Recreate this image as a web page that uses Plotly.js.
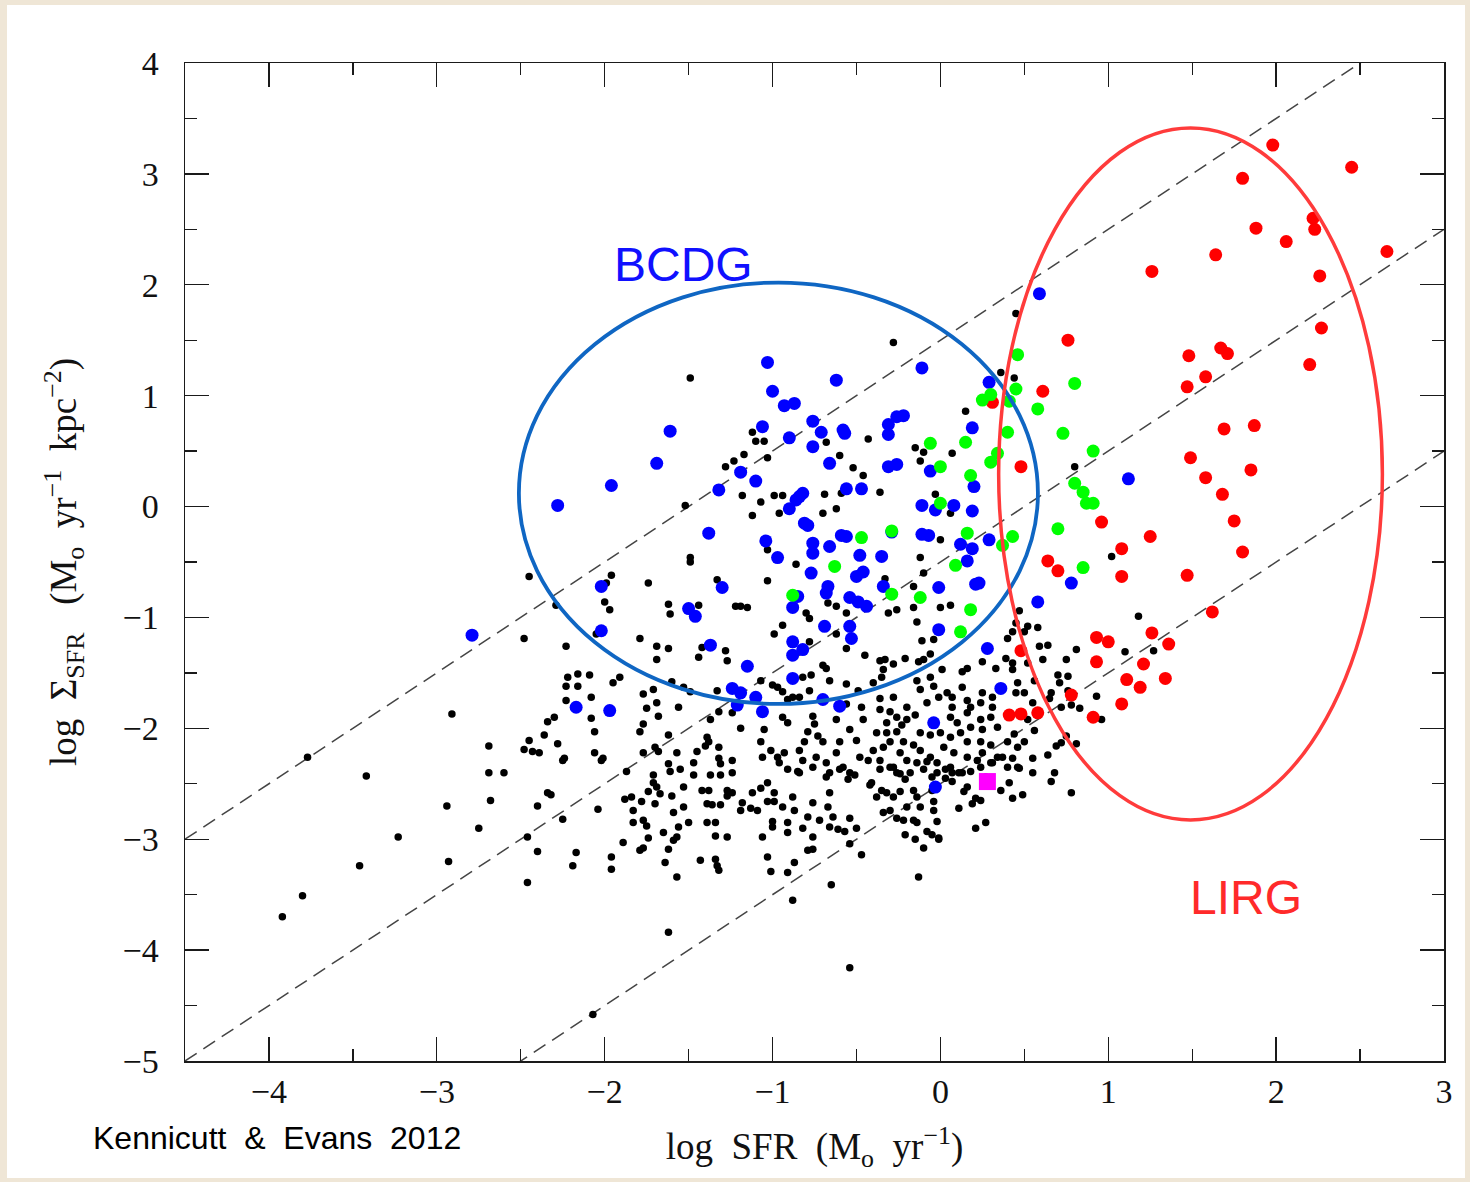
<!DOCTYPE html>
<html>
<head>
<meta charset="utf-8">
<script src="https://cdn.plot.ly/plotly-3.0.1.min.js"></script>
<style>
  html, body { margin: 0; padding: 0; width: 1470px; height: 1182px; background: #efe6d6; overflow: hidden; }
  #chart { position: absolute; left: 7px; top: 5px; width: 1458px; height: 1173px; background: #ffffff; }
</style>
</head>
<body>
<div id="chart"></div>
<script>
// ---------------- DATA ----------------
const xTickVals = [-4, -3, -2, -1, 0, 1, 2, 3];
const yTickVals = [-5, -4, -3, -2, -1, 0, 1, 2, 3, 4];
const xRange = [-4.5, 3];
const yRange = [-5, 4];

// dashed reference lines: log Sigma = log SFR + offset
const lineOffsets = [1.5, -0.5, -2.5];

// ellipses: [centerX, centerY, radiusX, radiusY]
const bcdgEllipse = [-0.965, 0.12, 1.546, 1.90];
const lirgEllipse = [1.49, 0.294, 1.143, 3.12];

const magentaPts = [[0.28, -2.48]];

const bluePts = [
[-2.79,-1.16],[-2.28,0.01],[-1.96,0.19],[-1.69,0.39],[-1.61,0.68],[-2.02,-0.72],[-2.02,-1.12],[-2.17,-1.81],
[-1.97,-1.84],[-1.38,-0.24],[-1.32,0.15],[-1.19,0.31],[-1.30,-0.73],[-1.50,-0.92],[-1.46,-0.99],[-1.37,-1.25],
[-1.15,-1.44],[-1.24,-1.64],[-1.19,-1.68],[-1.21,-1.79],[-1.06,-1.85],[-1.10,-1.72],[-1.03,1.30],[-1.00,1.04],
[-0.93,0.91],[-0.87,0.93],[-1.06,0.72],[-0.62,1.14],[-0.76,0.77],[-0.71,0.67],[-0.58,0.69],[-0.57,0.66],
[-0.90,0.62],[-0.76,0.54],[-0.11,1.25],[-0.31,0.74],[-0.26,0.81],[-0.22,0.82],[-0.31,0.65],[0.19,0.71],
[0.29,1.12],[-0.66,0.39],[-0.31,0.36],[-0.26,0.38],[-0.06,0.32],[-1.10,0.23],[-0.56,0.16],[-0.47,0.16],
[-0.82,0.12],[-0.84,0.09],[-0.86,0.06],[-0.90,-0.02],[0.20,0.18],[-0.11,0.01],[-0.03,-0.03],[0.08,0.01],
[0.19,-0.04],[-0.81,-0.15],[-0.79,-0.17],[-0.59,-0.26],[-0.56,-0.27],[-0.76,-0.33],[-0.66,-0.36],[-0.11,-0.25],
[-0.07,-0.26],[-1.04,-0.31],[-0.48,-0.44],[-0.76,-0.42],[-0.35,-0.45],[0.12,-0.34],[0.19,-0.38],[0.29,-0.30],
[-0.97,-0.46],[-0.29,-0.23],[-0.77,-0.60],[-0.50,-0.63],[-0.46,-0.59],[-0.67,-0.72],[-0.68,-0.78],[-0.34,-0.72],
[-0.85,-0.81],[-0.88,-0.91],[-0.54,-0.82],[-0.49,-0.86],[-0.44,-0.90],[-0.01,-0.73],[0.21,-0.70],[0.23,-0.69],
[-0.69,-1.08],[-0.54,-1.08],[-0.53,-1.19],[-0.88,-1.22],[-0.82,-1.29],[-0.88,-1.34],[-0.01,-1.11],[0.28,-1.28],
[-0.88,-1.55],[-0.70,-1.74],[-0.60,-1.80],[-0.04,-1.95],[0.36,-1.64],[0.16,-0.49],[0.59,1.92],[1.12,0.25],
[0.78,-0.69],[0.58,-0.86],[-0.03,-2.53]
];

const greenPts = [
[0.46,1.37],[0.30,1.01],[0.25,0.96],[0.45,1.06],[0.41,0.95],[0.58,0.88],[0.80,1.11],[0.40,0.67],
[0.73,0.66],[-0.06,0.57],[0.15,0.58],[0.34,0.48],[0.30,0.40],[0.00,0.36],[0.18,0.28],[0.91,0.50],
[0.80,0.21],[0.85,0.13],[0.87,0.03],[0.91,0.03],[0.00,0.03],[-0.29,-0.22],[-0.47,-0.28],[0.16,-0.24],
[0.43,-0.27],[0.37,-0.35],[0.70,-0.20],[0.85,-0.55],[-0.63,-0.54],[0.09,-0.53],[-0.88,-0.80],[-0.29,-0.79],
[-0.12,-0.82],[0.18,-0.93],[0.12,-1.13]
];

const redPts = [
[1.98,3.26],[2.45,3.06],[1.80,2.96],[2.22,2.60],[2.23,2.50],[1.88,2.51],[2.06,2.39],[2.66,2.30],
[1.64,2.27],[1.26,2.12],[2.26,2.08],[2.27,1.61],[0.76,1.50],[1.67,1.43],[1.71,1.38],[1.48,1.36],
[2.20,1.28],[1.58,1.17],[1.47,1.08],[0.61,1.04],[0.31,0.94],[1.69,0.70],[1.87,0.73],[1.49,0.44],
[1.85,0.33],[0.48,0.36],[1.58,0.26],[1.68,0.11],[1.75,-0.13],[0.96,-0.14],[1.25,-0.27],[1.08,-0.38],
[1.80,-0.41],[0.64,-0.49],[0.70,-0.58],[1.08,-0.63],[1.47,-0.62],[1.62,-0.95],[0.93,-1.18],[1.00,-1.22],
[1.26,-1.14],[1.36,-1.24],[0.48,-1.30],[1.21,-1.42],[0.93,-1.40],[1.11,-1.56],[1.19,-1.63],[1.34,-1.55],
[0.78,-1.70],[1.08,-1.78],[0.91,-1.90],[0.41,-1.88],[0.48,-1.87],[0.58,-1.86]
];

const blackPts = [
// upper scattered
[-0.28,1.48],[0.45,1.74],[0.36,1.21],[0.44,1.16],[0.15,0.86],[-1.12,0.67],[-1.10,0.59],[-1.05,0.59],
[-0.68,0.58],[-0.43,0.61],[-0.15,0.53],[-0.10,0.49],[-0.12,0.41],[0.07,0.48],[-0.60,0.46],[-1.03,0.44],
[-0.52,0.35],[-0.46,0.28],[-0.99,0.10],[-0.94,0.10],[-1.07,0.04],[-1.12,-0.08],[-0.96,-0.06],[-0.69,0.11],
[-0.59,0.12],[-0.70,-0.06],[-0.62,-0.02],[-0.36,0.13],[-0.03,0.11],[0.06,-0.06],[0.00,-0.30],[-1.03,-0.39],
[-0.12,-0.46],[-1.49,1.16],[-1.28,0.36],[-1.23,0.41],[-1.17,0.47],[-1.18,0.10],[-1.52,0.01],[-1.49,-0.46],
[0.80,0.36],
// right group
[1.02,-0.45],[1.18,-0.99],[1.10,-1.31],[1.27,-1.30],[0.93,-1.71],[0.96,-1.92],[0.47,-0.94],[0.45,-1.05],
[0.52,-1.08],[0.58,-1.09],[0.50,-1.13],[0.43,-1.13],[0.40,-1.19],[0.59,-1.26],[0.64,-1.25],[0.61,-1.38],
[0.75,-1.38],[0.81,-1.29],[0.39,-1.37],[0.43,-1.41],[0.43,-1.47],[0.52,-1.41],[0.70,-1.52],[0.76,-1.53],
[0.46,-1.59],[0.50,-1.68],[0.45,-1.68],[0.71,-1.59],[0.66,-1.68],[0.56,-1.57],[0.65,-1.73],[0.76,-1.66],
[0.72,-1.81],[0.78,-1.79],[0.83,-1.82],[0.55,-1.77],[0.52,-1.92],[0.56,-2.02],[0.44,-2.05],[0.40,-2.12],
[0.50,-2.12],[0.46,-2.17],[0.75,-2.07],[0.72,-2.13],[0.81,-2.14],[0.69,-2.16],[0.37,-2.26],[0.55,-2.27],
[0.43,-2.27],[0.64,-2.24],[0.40,-2.35],[0.47,-2.36],[0.55,-2.40],[0.68,-2.40],
// left-middle group
[-2.45,-0.63],[-1.96,-0.62],[-1.99,-0.69],[-1.49,-0.50],[-1.74,-0.69],[-1.33,-0.66],[-2.29,-0.89],[-2.00,-0.86],
[-1.97,-0.93],[-1.62,-0.88],[-1.61,-0.97],[-1.44,-0.89],[-1.22,-0.90],[-1.19,-0.90],[-1.15,-0.91],[-2.48,-1.19],
[-2.05,-1.15],[-1.79,-1.19],[-2.23,-1.26],[-1.69,-1.26],[-1.62,-1.28],[-1.69,-1.38],[-1.42,-1.27],[-1.44,-1.36],
[-1.28,-1.30],[-1.27,-1.39],[-2.22,-1.54],[-2.16,-1.51],[-2.09,-1.52],[-2.23,-1.62],[-2.16,-1.62],[-1.95,-1.59],
[-1.91,-1.54],[-2.23,-1.75],[-2.08,-1.72],[-2.91,-1.87],[-1.77,-1.69],[-1.71,-1.65],[-1.69,-1.77],[-1.75,-1.82],
[-1.60,-1.58],[-1.53,-1.63],[-1.49,-1.67],[-1.56,-1.81],[-1.33,-1.66],[-1.32,-1.85],[-1.37,-1.92],[-1.24,-1.86],
[-1.19,-2.00],[-1.68,-1.89],[-1.77,-1.96],[-1.79,-2.03],[-2.30,-1.90],[-2.34,-1.94],[-2.08,-1.91],[-2.06,-2.03],
[-1.62,-2.06],[-2.36,-2.06],[-2.45,-2.11],[-2.28,-2.14],[-2.48,-2.19],[-2.43,-2.21],[-2.39,-2.22],[-2.69,-2.16],
[-2.24,-2.27],[-2.06,-2.22],[-2.01,-2.27],[-1.77,-2.22],[-1.70,-2.17],[-1.68,-2.21],[-1.57,-2.22],[-1.45,-2.21],
[-1.39,-2.08],[-1.38,-2.12],[-1.40,-2.16],[-1.32,-2.17],[-2.69,-2.40],[-2.60,-2.40],[-1.87,-2.39],[-1.71,-2.42],
[-1.62,-2.32],[-1.61,-2.39],[-1.55,-2.37],[-1.47,-2.31],[-1.47,-2.42],[-1.32,-2.27],[-1.31,-2.32],[-1.37,-2.42],
[-1.31,-2.42],[-1.24,-2.40],
// far left
[-3.77,-2.26],[-3.42,-2.43],[-2.94,-2.70],[-2.68,-2.65],[-2.75,-2.90],[-3.23,-2.98],[-2.93,-3.20],[-3.46,-3.24],
[-2.46,-2.98],[-3.80,-3.51],[-3.92,-3.70],[-2.46,-3.39],[-2.07,-4.58],
// lower-left group
[-2.25,-2.29],[-2.02,-2.29],[-1.24,-2.29],[-2.34,-2.58],[-2.32,-2.60],[-2.40,-2.70],[-2.25,-2.82],[-2.04,-2.73],
[-2.40,-3.11],[-2.17,-3.12],[-2.19,-3.24],[-1.96,-3.16],[-1.96,-3.27],[-1.71,-2.49],[-1.69,-2.53],[-1.74,-2.57],
[-1.67,-2.59],[-1.60,-2.61],[-1.53,-2.53],[-1.88,-2.64],[-1.84,-2.62],[-1.78,-2.66],[-1.83,-2.74],[-1.70,-2.68],
[-1.59,-2.76],[-1.53,-2.71],[-1.42,-2.56],[-1.38,-2.56],[-1.27,-2.56],[-1.24,-2.58],[-1.27,-2.61],[-1.12,-2.58],
[-1.07,-2.54],[-1.03,-2.49],[-0.99,-2.58],[-1.39,-2.68],[-1.36,-2.69],[-1.31,-2.69],[-1.18,-2.67],[-1.19,-2.74],
[-1.13,-2.72],[-1.09,-2.74],[-1.03,-2.66],[-0.99,-2.66],[-1.50,-2.85],[-1.39,-2.85],[-1.34,-2.85],[-1.83,-2.85],
[-1.77,-2.83],[-1.75,-2.88],[-1.56,-2.89],[-1.65,-2.94],[-1.74,-2.99],[-1.57,-2.98],[-1.59,-3.01],[-1.89,-3.03],
[-1.79,-3.10],[-1.77,-3.08],[-1.62,-3.09],[-1.34,-2.97],[-1.27,-2.98],[-1.06,-2.98],[-1.00,-2.84],[-1.00,-2.89],
[-1.64,-3.21],[-1.43,-3.19],[-1.34,-3.18],[-1.33,-3.24],[-1.32,-3.28],[-1.57,-3.34],[-1.03,-3.16],[-1.01,-3.29],
[-1.62,-3.84],
// lower-middle group
[-0.91,-2.37],[-0.85,-2.39],[-0.76,-2.35],[-0.68,-2.44],[-0.60,-2.37],[-0.55,-2.46],[-0.51,-2.42],[-0.41,-2.49],
[-0.36,-2.37],[-0.28,-2.35],[-0.24,-2.41],[-0.21,-2.46],[-0.14,-2.31],[-0.08,-2.30],[-0.02,-2.40],[0.03,-2.37],
[0.07,-2.40],[0.13,-2.40],[0.24,-2.35],[0.31,-2.31],[0.46,-2.35],[0.66,-2.48],[0.41,-2.49],[0.43,-2.63],
[0.49,-2.60],[0.78,-2.58],[0.36,-2.56],[0.16,-2.53],[0.14,-2.57],[0.21,-2.63],[0.24,-2.65],[0.19,-2.68],
[0.11,-2.72],[0.27,-2.85],[0.21,-2.90],[0.07,-2.48],[0.03,-2.45],[-0.88,-2.62],[-0.94,-2.71],[-0.87,-2.74],
[-0.79,-2.80],[-0.72,-2.83],[-0.66,-2.89],[-0.64,-2.80],[-0.61,-2.91],[-0.57,-2.93],[-0.54,-2.81],[-0.50,-2.90],
[-0.67,-2.71],[-0.66,-2.58],[-0.76,-2.67],[-0.91,-2.85],[-0.91,-2.94],[-0.82,-2.90],[-0.76,-2.98],[-0.79,-3.10],
[-0.76,-3.09],[-0.87,-3.21],[-0.91,-3.30],[-0.54,-3.04],[-0.47,-3.14],[-0.42,-2.51],[-0.38,-2.62],[-0.35,-2.56],
[-0.32,-2.58],[-0.28,-2.62],[-0.24,-2.57],[-0.20,-2.71],[-0.16,-2.56],[-0.14,-2.62],[-0.12,-2.71],[-0.34,-2.76],
[-0.30,-2.74],[-0.26,-2.81],[-0.22,-2.83],[-0.16,-2.83],[-0.14,-2.85],[-0.08,-2.93],[-0.05,-2.56],[-0.04,-2.66],
[-0.04,-2.74],[-0.02,-2.84],[-0.01,-3.00],[-0.10,-3.08],[-0.15,-3.00],[-0.21,-2.96],[-0.65,-3.41],[-0.88,-3.55],
[-0.13,-3.34],[-0.54,-4.16],[-0.05,-2.96],[-0.01,-2.99],
// central dense group
[-0.86,-0.52],[-1.03,-0.67],[-0.33,-0.65],[-0.10,-0.60],[-0.16,-0.72],[-0.67,-0.87],[-0.62,-0.90],[-0.80,-0.96],
[-0.78,-1.01],[-0.56,-0.96],[-0.31,-0.96],[-0.26,-0.93],[-0.16,-0.91],[0.00,-0.91],[0.06,-0.89],[-0.94,-1.07],
[-0.99,-1.15],[-0.78,-1.22],[-0.62,-1.15],[-0.14,-1.04],[-0.11,-1.21],[-0.04,-1.20],[-0.56,-1.28],[-0.45,-1.34],
[-0.36,-1.39],[-0.33,-1.38],[-0.28,-1.42],[-0.21,-1.37],[-0.13,-1.40],[-0.10,-1.38],[-0.06,-1.33],[0.01,-1.47],
[0.13,-1.49],[0.16,-1.46],[0.25,-1.40],[0.33,-1.46],[-0.34,-1.47],[-0.35,-1.54],[-0.70,-1.43],[-0.68,-1.46],
[-0.77,-1.52],[-0.82,-1.54],[-1.00,-1.61],[-0.97,-1.63],[-0.94,-1.67],[-1.07,-1.57],[-0.66,-1.57],[-0.56,-1.60],
[-0.49,-1.66],[-0.40,-1.59],[-0.28,-1.72],[-0.14,-1.57],[-0.12,-1.65],[-0.06,-1.54],[-0.04,-1.62],[0.04,-1.68],
[0.07,-1.72],[0.13,-1.63],[0.16,-1.75],[0.25,-1.68],[0.31,-1.72],[-0.88,-1.72],[-0.84,-1.72],[-0.91,-1.74],
[-0.78,-1.66],[-0.56,-1.78],[-0.47,-1.81],[-0.36,-1.73],[-0.20,-1.81],[-0.08,-1.77],[-0.01,-1.72],[0.07,-1.81],
[0.18,-1.81],[0.24,-1.77],[0.31,-1.81],[-1.05,-2.01],[-0.94,-1.90],[-0.91,-1.95],[-0.76,-1.89],[-0.75,-1.96],
[-0.79,-2.03],[-0.73,-2.07],[-0.70,-2.12],[-0.81,-2.12],[-0.62,-1.92],[-0.54,-2.01],[-0.46,-1.92],[-0.60,-2.12],
[-0.50,-2.11],[-0.36,-1.83],[-0.30,-1.85],[-0.26,-1.90],[-0.32,-1.95],[-0.23,-1.97],[-0.20,-1.92],[-0.15,-1.88],
[-0.38,-2.04],[-0.32,-2.04],[-0.26,-2.03],[-0.30,-2.12],[-0.22,-2.12],[-0.16,-2.15],[-0.12,-2.04],[-0.06,-2.06],
[0.00,-2.04],[0.06,-1.90],[0.10,-1.95],[0.06,-2.08],[0.12,-2.04],[0.16,-1.86],[0.24,-1.92],[0.30,-1.90],
[0.18,-1.99],[0.25,-2.01],[0.34,-1.99],[0.16,-2.12],[0.24,-2.12],[0.30,-2.15],[-1.07,-2.12],[-1.01,-2.20],
[-0.97,-2.26],[-0.93,-2.22],[-0.96,-2.31],[-1.06,-2.26],[-0.84,-2.20],[-0.82,-2.29],[-0.84,-2.40],[-0.74,-2.26],
[-0.68,-2.31],[-0.62,-2.22],[-0.58,-2.35],[-0.54,-2.40],[-0.66,-2.40],[-0.48,-2.26],[-0.43,-2.29],[-0.40,-2.20],
[-0.34,-2.17],[-0.36,-2.29],[-0.30,-2.35],[-0.24,-2.22],[-0.20,-2.29],[-0.26,-2.40],[-0.18,-2.40],[-0.12,-2.20],
[-0.06,-2.26],[-0.02,-2.31],[-0.10,-2.37],[-0.05,-2.44],[0.02,-2.17],[0.08,-2.22],[0.06,-2.35],[0.11,-2.40],
[0.16,-2.26],[0.22,-2.29],[0.25,-2.22],[0.30,-2.31],[0.34,-2.26],[0.18,-2.39],[0.27,-2.44]
];

// ---------------- STYLES ----------------
const serif = 'Liberation Serif, Times New Roman, serif';
const sans = 'Liberation Sans, Arial, sans-serif';
const NB = '\u00a0';

function xs(p) { return p.map(d => d[0]); }
function ys(p) { return p.map(d => d[1]); }

const traces = [];
lineOffsets.forEach(c => {
  traces.push({
    x: xRange, y: xRange.map(v => v + c), type: 'scatter', mode: 'lines',
    line: { color: '#444444', width: 1.5, dash: '14px,8px' }, hoverinfo: 'skip', showlegend: false
  });
});
traces.push({ x: xs(blackPts), y: ys(blackPts), type: 'scatter', mode: 'markers',
  marker: { color: '#000000', size: 7.5 }, showlegend: false, name: 'black' });
traces.push({ x: xs(redPts), y: ys(redPts), type: 'scatter', mode: 'markers',
  marker: { color: '#ff0000', size: 13 }, showlegend: false, name: 'LIRG' });
traces.push({ x: xs(bluePts), y: ys(bluePts), type: 'scatter', mode: 'markers',
  marker: { color: '#0000ff', size: 13 }, showlegend: false, name: 'BCDG' });
traces.push({ x: xs(greenPts), y: ys(greenPts), type: 'scatter', mode: 'markers',
  marker: { color: '#00ff00', size: 13 }, showlegend: false, name: 'green' });
traces.push({ x: xs(magentaPts), y: ys(magentaPts), type: 'scatter', mode: 'markers',
  marker: { color: '#ff00ff', size: 17, symbol: 'square' }, showlegend: false, name: 'MW' });

function ellipse(e, color, width) {
  return { type: 'circle', xref: 'x', yref: 'y', layer: 'above',
    x0: e[0] - e[2], x1: e[0] + e[2], y0: e[1] - e[3], y1: e[1] + e[3],
    line: { color: color, width: width } };
}

const axisCommon = {
  showgrid: false, zeroline: false, showline: true, linecolor: '#1a1a1a', linewidth: 1.5,
  mirror: 'allticks', ticks: 'inside', ticklen: 24, tickwidth: 1.3, tickcolor: '#1a1a1a',
  tickfont: { family: serif, size: 34, color: '#111' },
  minor: { dtick: 0.5, ticks: 'inside', ticklen: 12, tickwidth: 1.3, tickcolor: '#1a1a1a' }
};

const layout = {
  width: 1458, height: 1173,
  margin: { l: 178, r: 21, t: 58, b: 117 },
  paper_bgcolor: '#ffffff', plot_bgcolor: '#ffffff',
  showlegend: false, hovermode: false,
  xaxis: Object.assign({}, axisCommon, {
    range: xRange, tickmode: 'array', tickvals: xTickVals, ticklabelstandoff: 0,
    title: { text: 'log' + NB + NB + 'SFR' + NB + NB + '(M<sub>o</sub>' + NB + NB + 'yr<sup>−1</sup>)',
      font: { family: serif, size: 37, color: '#111' }, standoff: 24 }
  }),
  yaxis: Object.assign({}, axisCommon, {
    range: yRange, tickmode: 'array', tickvals: yTickVals, ticklabelstandoff: 18,
    title: { text: 'log' + NB + NB + 'Σ<sub>SFR</sub>' + NB + NB + NB + '(M<sub>o</sub>' + NB + NB + 'yr<sup>−1</sup>' + NB + NB + 'kpc<sup>−2</sup>)',
      font: { family: serif, size: 37, color: '#111' }, standoff: 34 }
  }),
  shapes: [ellipse(bcdgEllipse, '#0f66c3', 3.8), ellipse(lirgEllipse, '#ff3b3b', 3.5)],
  annotations: [
    { text: 'BCDG', x: -1.53, y: 2.18, xref: 'x', yref: 'y', showarrow: false,
      font: { family: sans, size: 48, color: '#1010ff' } },
    { text: 'LIRG', x: 1.82, y: -3.53, xref: 'x', yref: 'y', showarrow: false,
      font: { family: sans, size: 48, color: '#ff2a2a' } },
    { text: 'Kennicutt' + NB + NB + '&' + NB + NB + 'Evans' + NB + NB + '2012', x: 0.073, y: -0.077,
      xref: 'paper', yref: 'paper', showarrow: false, xanchor: 'center', yanchor: 'middle',
      font: { family: sans, size: 32, color: '#000' } }
  ]
};

Plotly.newPlot('chart', traces, layout, { staticPlot: true, displayModeBar: false });
</script>
</body>
</html>
